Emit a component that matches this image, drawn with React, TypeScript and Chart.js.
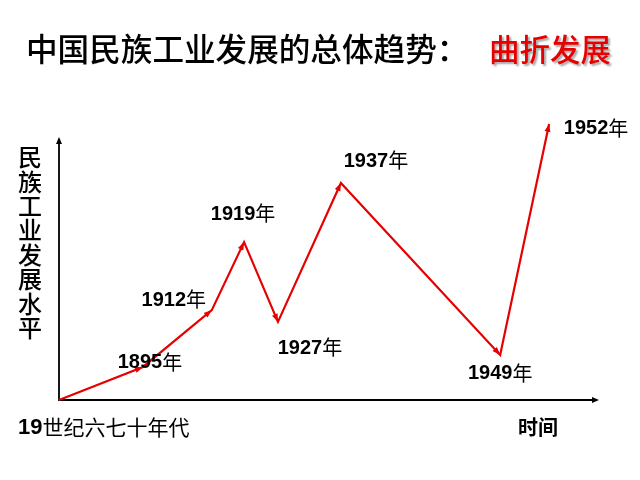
import React, { useEffect, useRef } from "react";
import { Chart, registerables } from "chart.js";

Chart.register(...registerables);

// ---- data ----
const pointYears = ["", "1895", "1912", "1919", "1927", "1937", "1949", "1952"];
const timePosition = [0, 15.6, 28.4, 34.4, 40.7, 52.4, 82.0, 91.1];
const industryLevel = [0, 11.8, 32.1, 56.4, 27.9, 77.5, 16.1, 98.6];
const yearSuffix = "年";
const titleMain = "中国民族工业发展的总体趋势：";
const titleHighlight = "曲折发展";
const yAxisTitle = "民族工业发展水平";
const xStartDigits = "19";
const xStartText = "世纪六七十年代";
const xAxisTitle = "时间";

// ---- layout (label offsets from their point, in px) ----
const labelOffsets: [number, number][] = [
  [0, 0],
  [7, -5],
  [-38, -11],
  [-1, -29],
  [32, 26],
  [35, -23],
  [0, 18],
  [47, 4],
];

const CJK = "'Noto Sans CJK SC', 'Noto Sans', sans-serif";
const LATIN = "'Liberation Sans', Arial, sans-serif";
const RED = "#e60000";

function arrowHead(ctx: CanvasRenderingContext2D, x0: number, y0: number, x1: number, y1: number, len: number, half: number, color: string) {
  const a = Math.atan2(y1 - y0, x1 - x0);
  ctx.save();
  ctx.fillStyle = color;
  ctx.beginPath();
  ctx.moveTo(x1, y1);
  ctx.lineTo(x1 - len * Math.cos(a) + half * Math.sin(a), y1 - len * Math.sin(a) - half * Math.cos(a));
  ctx.lineTo(x1 - len * Math.cos(a) - half * Math.sin(a), y1 - len * Math.sin(a) + half * Math.cos(a));
  ctx.closePath();
  ctx.fill();
  ctx.restore();
}

const decorPlugin = {
  id: "decor",
  beforeDatasetsDraw(chart: any) {
    const ctx: CanvasRenderingContext2D = chart.ctx;
    const xs = chart.scales.x;
    const ys = chart.scales.y;
    const ox = xs.getPixelForValue(0);
    const oy = ys.getPixelForValue(0);
    const xEnd = xs.getPixelForValue(100);
    const yTop = ys.getPixelForValue(93.2);
    ctx.save();
    ctx.strokeStyle = "#000";
    ctx.lineWidth = 1.8;
    ctx.beginPath();
    ctx.moveTo(ox, yTop);
    ctx.lineTo(ox, oy);
    ctx.lineTo(xEnd, oy);
    ctx.stroke();
    ctx.restore();
    arrowHead(ctx, ox, oy, ox, yTop - 2, 7, 3, "#000");
    arrowHead(ctx, ox, oy, xEnd + 2, oy, 7, 3, "#000");
  },
  afterDatasetsDraw(chart: any) {
    const ctx: CanvasRenderingContext2D = chart.ctx;
    const meta = chart.getDatasetMeta(0);
    const pts = meta.data;
    for (let i = 1; i < pts.length; i++) {
      arrowHead(ctx, pts[i - 1].x, pts[i - 1].y, pts[i].x, pts[i].y, 8, 3, RED);
    }
    // point labels
    ctx.save();
    ctx.textBaseline = "middle";
    ctx.fillStyle = "#000";
    for (let i = 1; i < pts.length; i++) {
      const [dx, dy] = labelOffsets[i];
      const cx = pts[i].x + dx;
      const cy = pts[i].y + dy;
      ctx.font = `bold 20px ${LATIN}`;
      const wd = ctx.measureText(pointYears[i]).width;
      ctx.font = `20px ${CJK}`;
      const ws = ctx.measureText(yearSuffix).width;
      const sx = cx - (wd + ws) / 2;
      ctx.font = `bold 20px ${LATIN}`;
      ctx.textAlign = "left";
      ctx.fillText(pointYears[i], sx, cy + 1);
      ctx.font = `20px ${CJK}`;
      ctx.fillText(yearSuffix, sx + wd, cy);
    }
    ctx.restore();

    // title
    ctx.save();
    ctx.textBaseline = "middle";
    ctx.textAlign = "left";
    ctx.font = `500 31.6px ${CJK}`;
    ctx.fillStyle = "#000";
    ctx.fillText(titleMain, 26, 49);
    ctx.font = `500 30.5px ${CJK}`;
    ctx.shadowColor = "rgba(0,0,0,0.35)";
    ctx.shadowOffsetX = 2;
    ctx.shadowOffsetY = 2;
    ctx.shadowBlur = 2;
    ctx.fillStyle = RED;
    ctx.fillText(titleHighlight, 489, 49);
    ctx.restore();

    // y axis title (vertical)
    ctx.save();
    ctx.textBaseline = "middle";
    ctx.textAlign = "center";
    ctx.font = `500 24px ${CJK}`;
    ctx.fillStyle = "#000";
    const chars = Array.from(yAxisTitle);
    chars.forEach((c, i) => ctx.fillText(c, 30, 157 + i * 24.4));
    ctx.restore();

    // x axis start / title
    ctx.save();
    ctx.textBaseline = "middle";
    ctx.textAlign = "left";
    ctx.fillStyle = "#000";
    ctx.font = `bold 22px ${LATIN}`;
    const w19 = ctx.measureText(xStartDigits).width;
    ctx.fillText(xStartDigits, 18, 428);
    ctx.font = `21px ${CJK}`;
    ctx.fillText(xStartText, 18 + w19, 427);
    ctx.font = `bold 20px ${CJK}`;
    ctx.fillText(xAxisTitle, 518, 427);
    ctx.restore();
  },
};

export default function App() {
  const ref = useRef<HTMLCanvasElement | null>(null);
  useEffect(() => {
    if (!ref.current) return;
    const chart = new Chart(ref.current, {
      type: "line",
      data: {
        datasets: [
          {
            data: timePosition.map((x, i) => ({ x, y: industryLevel[i] })),
            borderColor: RED,
            borderWidth: 2.2,
            pointRadius: 0,
            tension: 0,
            fill: false,
            clip: false as any,
          },
        ],
      },
      options: {
        responsive: false,
        animation: false,
        devicePixelRatio: 1,
        layout: { padding: { left: 59, right: 43, top: 120, bottom: 80 } },
        plugins: { legend: { display: false }, tooltip: { enabled: false }, title: { display: false } },
        scales: {
          x: { type: "linear", min: 0, max: 100, display: false },
          y: { type: "linear", min: 0, max: 100, display: false },
        },
        events: [],
      },
      plugins: [decorPlugin],
    });
    return () => chart.destroy();
  }, []);
  return (
    <div style={{ position: "absolute", left: 0, top: 0, width: 640, height: 480, background: "#fff" }}>
      <canvas ref={ref} width={640} height={480} style={{ display: "block", width: 640, height: 480 }} />
    </div>
  );
}
